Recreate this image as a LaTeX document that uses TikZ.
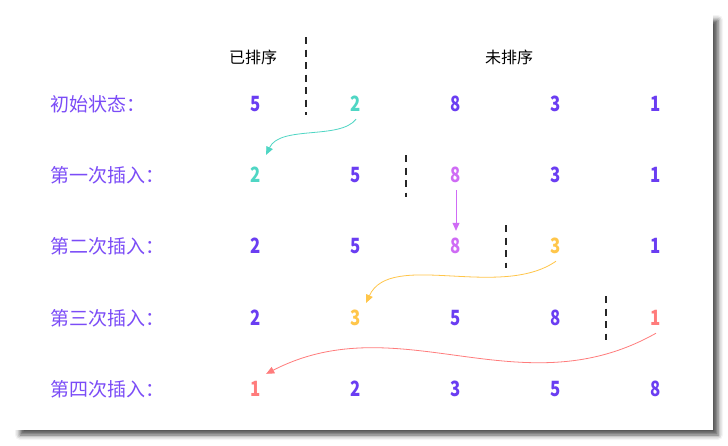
\documentclass[tikz,border=0pt]{standalone}
\usepackage{fontspec}
\newfontfamily\cjk{Noto Sans CJK SC}
\newfontfamily\numfont[FakeStretch=0.8]{Noto Sans CJK SC}
\usetikzlibrary{calc, arrows.meta, shadows.blur}

\definecolor{labelpurple}{HTML}{7B4CF7}
\definecolor{numpurple}{HTML}{6A3DF2}
\definecolor{numteal}{HTML}{4FD6C4}
\definecolor{numviolet}{HTML}{CF6BF5}
\definecolor{numyellow}{HTML}{FFC64A}
\definecolor{numcoral}{HTML}{FF7C7C}

\begin{document}
\begin{tikzpicture}[x=1pt, y=-1pt,
  num/.style={font=\numfont\bfseries\fontsize{21}{21}\selectfont, text=numpurple,
    minimum width=20pt, minimum height=30pt, inner sep=0pt},
  rowlabel/.style={font=\cjk\fontsize{19}{19}\selectfont, text=labelpurple, anchor=west, inner sep=0pt},
  header/.style={font=\cjk\fontsize{16}{16}\selectfont, inner sep=0pt},
  divider/.style={line width=1.6pt, black!85, dash pattern=on 7pt off 5.5pt},
  move/.style={line width=0.8pt, -{Triangle[length=8pt,width=7pt]}}]

\useasboundingbox (0,0) rectangle (728,445);
% Card with shadow
\fill[white, blur shadow={shadow xshift=5pt, shadow yshift=-5pt, shadow blur radius=5pt, shadow opacity=70}]
  (15,15) rectangle (713,430);

% Headers
\node[header] (sorted) at (253,57) {已排序};
\node[header] (unsorted) at (509,57) {未排序};

% Initial state
\node[rowlabel] (la) at (50,104) {初始状态：};
\node[num] (a0) at (256,104) {5};
\node[num, text=numteal] (a1) at (356,104) {2};
\node[num] (a2) at (456,104) {8};
\node[num] (a3) at (556,104) {3};
\node[num] (a4) at (656,104) {1};

% First insertion
\node[rowlabel] (lb) at (50,175) {第一次插入：};
\node[num, text=numteal] (b0) at (256,175) {2};
\node[num] (b1) at (356,175) {5};
\node[num, text=numviolet] (b2) at (456,175) {8};
\node[num] (b3) at (556,175) {3};
\node[num] (b4) at (656,175) {1};

% Second insertion
\node[rowlabel] (lc) at (50,246) {第二次插入：};
\node[num] (c0) at (256,246) {2};
\node[num] (c1) at (356,246) {5};
\node[num, text=numviolet] (c2) at (456,246) {8};
\node[num, text=numyellow] (c3) at (556,246) {3};
\node[num] (c4) at (656,246) {1};

% Third insertion
\node[rowlabel] (ld) at (50,318) {第三次插入：};
\node[num] (d0) at (256,318) {2};
\node[num, text=numyellow] (d1) at (356,318) {3};
\node[num] (d2) at (456,318) {5};
\node[num] (d3) at (556,318) {8};
\node[num, text=numcoral] (d4) at (656,318) {1};

% Fourth insertion
\node[rowlabel] (le) at (50,389) {第四次插入：};
\node[num, text=numcoral] (e0) at (256,389) {1};
\node[num] (e1) at (356,389) {2};
\node[num] (e2) at (456,389) {3};
\node[num] (e3) at (556,389) {5};
\node[num] (e4) at (656,389) {8};

% Sorted / unsorted dividers
\draw[divider] (306,37) -- (306,115);
\draw[divider] (406,155) -- (406,197);
\draw[divider] (506,225) -- (506,268);
\draw[divider] (606,296) -- (606,340);

% Insert moves
\draw[move, numteal] (a1.south) .. controls (340,140) and (280,125) .. ([yshift=5pt]b0.north east);
\draw[move, numviolet] (b2.south) -- (c2.north);
\draw[move, numyellow] (c3.south) .. controls (500,300) and (390,250) .. (d1.north east);
\draw[move, numcoral] (d4.south) .. controls (520,410) and (400,305) .. (e0.north east);
\end{tikzpicture}
\end{document}
